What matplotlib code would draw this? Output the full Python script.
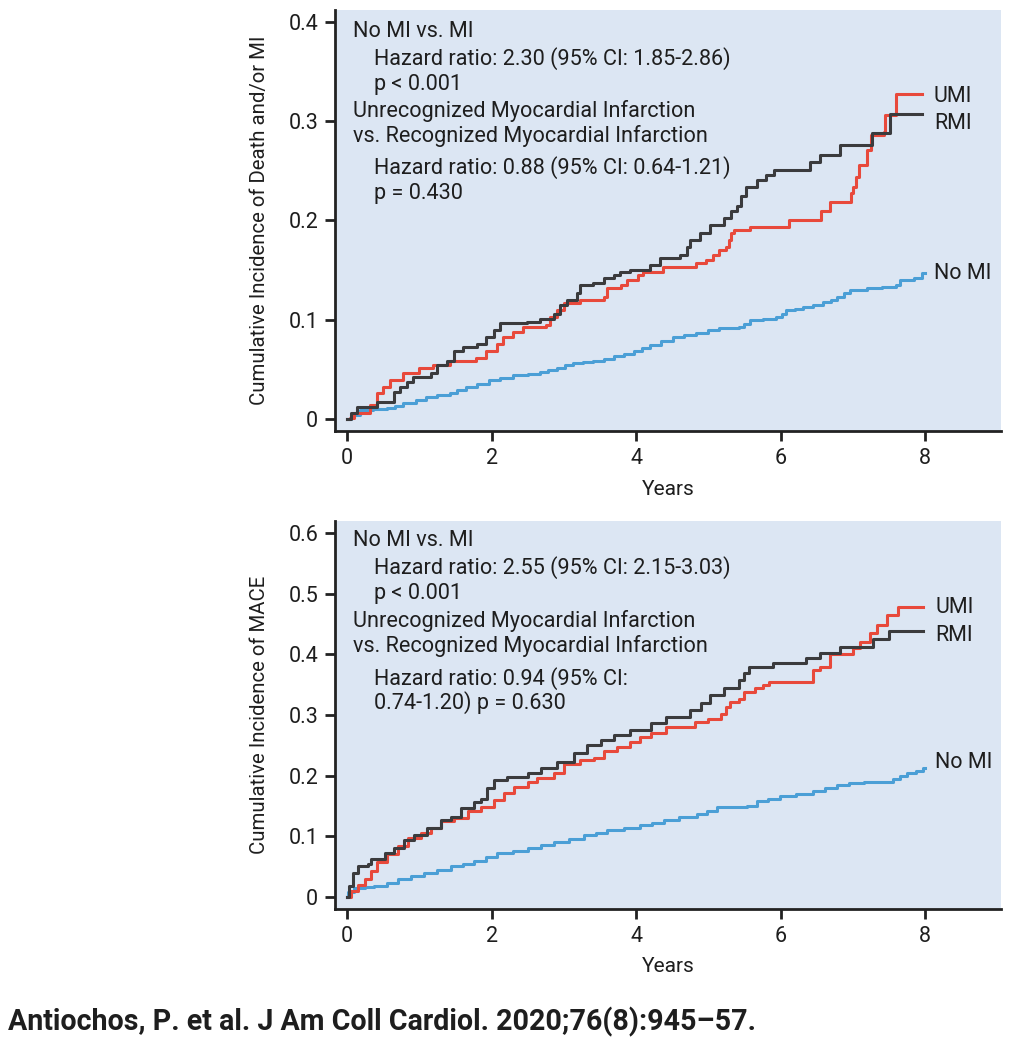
import matplotlib
matplotlib.use("Agg")
import matplotlib.pyplot as plt

plt.rcParams['font.family'] = ['Roboto', 'DejaVu Sans']

# Top panel: death and/or MI (step times in years, cumulative incidence)
top_umi_t = [0, 0.04, 0.1, 0.32, 0.41, 0.5, 0.6, 0.78, 1.0, 1.19, 1.42, 1.79, 1.93, 2.07, 2.16,
             2.3, 2.44, 2.76, 2.81, 2.9, 3.0, 3.23, 3.56, 3.6, 3.79, 3.88, 4.02, 4.1, 4.37, 4.83,
             4.97, 5.06, 5.15, 5.24, 5.29, 5.31, 5.36, 5.57, 6.12, 6.56, 6.68, 6.98, 7.0, 7.05,
             7.09, 7.2, 7.25, 7.43, 7.45, 7.6, 7.95]
top_umi_y = [0, 0.001, 0.006, 0.014, 0.026, 0.032, 0.039, 0.046, 0.051, 0.054, 0.059, 0.062, 0.069,
             0.076, 0.083, 0.088, 0.093, 0.095, 0.103, 0.11, 0.117, 0.12, 0.123, 0.132, 0.135, 0.14,
             0.145, 0.148, 0.153, 0.157, 0.16, 0.165, 0.17, 0.173, 0.18, 0.187, 0.19, 0.193, 0.2,
             0.21, 0.219, 0.228, 0.234, 0.244, 0.256, 0.271, 0.286, 0.289, 0.306, 0.327, 0.327]

top_rmi_t = [0, 0.05, 0.14, 0.41, 0.65, 0.74, 0.83, 0.92, 1.16, 1.25, 1.39, 1.48, 1.61, 1.8, 1.93,
             2.03, 2.12, 2.49, 2.67, 2.86, 2.95, 3.04, 3.18, 3.23, 3.41, 3.55, 3.69, 3.78, 3.92,
             4.19, 4.33, 4.61, 4.7, 4.75, 4.89, 5.03, 5.22, 5.31, 5.4, 5.45, 5.52, 5.68, 5.8, 5.91,
             6.41, 6.55, 6.82, 7.26, 7.52, 7.95]
top_rmi_y = [0, 0.006, 0.012, 0.017, 0.027, 0.032, 0.037, 0.042, 0.046, 0.054, 0.059, 0.069, 0.073,
             0.076, 0.083, 0.09, 0.097, 0.098, 0.101, 0.106, 0.115, 0.12, 0.127, 0.135, 0.137, 0.142,
             0.145, 0.148, 0.15, 0.155, 0.162, 0.165, 0.173, 0.18, 0.187, 0.195, 0.203, 0.21, 0.215,
             0.225, 0.234, 0.241, 0.246, 0.251, 0.259, 0.266, 0.276, 0.288, 0.307, 0.307]

top_nomi_t = [0, 0.05, 0.18, 0.36, 0.55, 0.66, 0.78, 0.95, 1.1, 1.25, 1.42, 1.52, 1.65, 1.8, 1.97,
              2.12, 2.3, 2.5, 2.67, 2.78, 2.9, 3.02, 3.13, 3.27, 3.41, 3.55, 3.69, 3.83, 3.97,
              4.08, 4.19, 4.35, 4.51, 4.67, 4.83, 5.0, 5.15, 5.43, 5.5, 5.57, 5.75, 5.94, 6.02,
              6.08, 6.2, 6.31, 6.45, 6.59, 6.7, 6.78, 6.88, 6.96, 7.19, 7.4, 7.6, 7.65, 7.84,
              7.95, 8.0]
top_nomi_y = [0, 0.004, 0.009, 0.01, 0.011, 0.013, 0.016, 0.019, 0.022, 0.024, 0.026, 0.029, 0.032,
              0.035, 0.039, 0.041, 0.044, 0.045, 0.047, 0.049, 0.051, 0.054, 0.056, 0.057, 0.059,
              0.061, 0.064, 0.066, 0.069, 0.072, 0.075, 0.079, 0.083, 0.085, 0.087, 0.09, 0.092,
              0.093, 0.096, 0.1, 0.101, 0.103, 0.106, 0.11, 0.111, 0.113, 0.115, 0.118, 0.12,
              0.123, 0.127, 0.13, 0.132, 0.133, 0.135, 0.14, 0.142, 0.147, 0.147]

# Bottom panel: MACE
bot_umi_t = [0, 0.05, 0.15, 0.25, 0.33, 0.42, 0.56, 0.7, 0.84, 1.02, 1.16, 1.3, 1.48, 1.67, 1.85,
             2.03, 2.17, 2.31, 2.5, 2.63, 2.86, 3.0, 3.23, 3.42, 3.55, 3.74, 3.92, 4.05, 4.2, 4.42,
             4.82, 5.0, 5.17, 5.24, 5.3, 5.42, 5.5, 5.65, 5.75, 5.84, 6.45, 6.55, 6.69, 7.0, 7.1,
             7.24, 7.33, 7.47, 7.62, 7.97]
bot_umi_y = [0, 0.01, 0.02, 0.029, 0.043, 0.057, 0.07, 0.084, 0.097, 0.106, 0.114, 0.125, 0.13,
             0.141, 0.149, 0.16, 0.171, 0.182, 0.19, 0.196, 0.204, 0.22, 0.226, 0.229, 0.24, 0.248,
             0.256, 0.264, 0.27, 0.281, 0.289, 0.294, 0.302, 0.313, 0.322, 0.327, 0.338, 0.344,
             0.35, 0.355, 0.375, 0.38, 0.4, 0.41, 0.42, 0.435, 0.449, 0.465, 0.478, 0.478]

bot_rmi_t = [0, 0.03, 0.08, 0.15, 0.29, 0.33, 0.52, 0.65, 0.79, 0.93, 1.11, 1.3, 1.44, 1.58, 1.76,
             1.85, 1.94, 2.03, 2.22, 2.5, 2.68, 2.91, 3.14, 3.32, 3.51, 3.69, 3.92, 4.2, 4.42,
             4.75, 4.9, 5.03, 5.22, 5.43, 5.5, 5.56, 5.9, 6.35, 6.55, 6.82, 7.28, 7.5, 7.97]
bot_rmi_y = [0, 0.018, 0.04, 0.051, 0.054, 0.062, 0.073, 0.08, 0.094, 0.102, 0.113, 0.127, 0.132,
             0.146, 0.157, 0.162, 0.179, 0.193, 0.198, 0.204, 0.212, 0.223, 0.237, 0.25, 0.259,
             0.267, 0.275, 0.286, 0.297, 0.308, 0.319, 0.333, 0.344, 0.358, 0.369, 0.38, 0.386,
             0.394, 0.403, 0.412, 0.425, 0.438, 0.438]

bot_nomi_t = [0, 0.02, 0.1, 0.25, 0.38, 0.55, 0.7, 0.88, 1.07, 1.25, 1.44, 1.6, 1.76, 1.92, 2.08,
              2.3, 2.5, 2.68, 2.86, 3.07, 3.28, 3.45, 3.6, 3.83, 4.06, 4.22, 4.38, 4.6, 4.84,
              4.98, 5.12, 5.53, 5.67, 5.83, 5.99, 6.22, 6.45, 6.62, 6.78, 6.95, 7.15, 7.56,
              7.65, 7.75, 7.88, 7.97, 8.0]
bot_nomi_y = [0, 0.008, 0.015, 0.016, 0.018, 0.023, 0.029, 0.034, 0.04, 0.045, 0.051, 0.055, 0.059,
              0.065, 0.072, 0.076, 0.08, 0.085, 0.091, 0.096, 0.102, 0.106, 0.11, 0.114, 0.118,
              0.122, 0.126, 0.131, 0.137, 0.142, 0.148, 0.15, 0.158, 0.162, 0.166, 0.17, 0.174,
              0.18, 0.185, 0.188, 0.19, 0.195, 0.199, 0.204, 0.207, 0.212, 0.212]

xticks = [0, 2, 4, 6, 8]
top_yticks = [0, 0.1, 0.2, 0.3, 0.4]
top_yticklabels = ['0', '0.1', '0.2', '0.3', '0.4']
bot_yticks = [0, 0.1, 0.2, 0.3, 0.4, 0.5, 0.6]
bot_yticklabels = ['0', '0.1', '0.2', '0.3', '0.4', '0.5', '0.6']

top_text = ["No MI vs. MI", "Hazard ratio: 2.30 (95% CI: 1.85-2.86)", "p < 0.001",
            "Unrecognized Myocardial Infarction", "vs. Recognized Myocardial Infarction",
            "Hazard ratio: 0.88 (95% CI: 0.64-1.21)", "p = 0.430"]
bot_text = ["No MI vs. MI", "Hazard ratio: 2.55 (95% CI: 2.15-3.03)", "p < 0.001",
            "Unrecognized Myocardial Infarction", "vs. Recognized Myocardial Infarction",
            "Hazard ratio: 0.94 (95% CI:", "0.74-1.20) p = 0.630"]
indent = [False, True, True, False, False, True, True]

RED = '#e8493b'
DARK = '#3b3b3d'
BLUE = '#4b9fd6'
BG = '#dce6f3'
TXT = '#1e1e1e'

fig = plt.figure(figsize=(10.09, 10.5), dpi=100)
ax1 = fig.add_axes([335 / 1009, 1 - 431 / 1050, 666 / 1009, 421 / 1050])
ax2 = fig.add_axes([335 / 1009, 1 - 909 / 1050, 666 / 1009, 388 / 1050])


def style_axes(ax, ylim, yticks, yticklabels, ylabel, xlab_y):
    ax.set_facecolor(BG)
    ax.set_xlim(-0.166, 9.05)
    ax.set_ylim(*ylim)
    ax.set_xticks(xticks)
    ax.set_xticklabels([str(t) for t in xticks])
    ax.set_yticks(yticks)
    ax.set_yticklabels(yticklabels)
    for s in ['top', 'right']:
        ax.spines[s].set_visible(False)
    for s in ['left', 'bottom']:
        ax.spines[s].set_linewidth(2.0)
        ax.spines[s].set_color('#222222')
    ax.tick_params(direction='out', length=7, width=2.0, color='#222222',
                   labelsize=15.5, labelcolor=TXT)
    ax.tick_params(axis='x', pad=5)
    ax.tick_params(axis='y', pad=5)
    ax.set_xlabel('Years', fontsize=15, color=TXT, va='center')
    ax.xaxis.set_label_coords(0.5, xlab_y)
    ax.set_ylabel(ylabel, fontsize=14.7, color=TXT, va='center')
    ax.yaxis.set_label_coords(-0.114, 0.5)


style_axes(ax1, (-0.012, 0.412), top_yticks, top_yticklabels,
           'Cumulative Incidence of Death and/or MI', -0.138)
style_axes(ax2, (-0.02, 0.62), bot_yticks, bot_yticklabels,
           'Cumulative Incidence of MACE', -0.147)

lw = 2.2
ax1.step(top_nomi_t, top_nomi_y, where='post', color=BLUE, lw=lw)
ax1.step(top_umi_t, top_umi_y, where='post', color=RED, lw=lw)
ax1.step(top_rmi_t, top_rmi_y, where='post', color=DARK, lw=lw)
ax2.step(bot_nomi_t, bot_nomi_y, where='post', color=BLUE, lw=lw)
ax2.step(bot_umi_t, bot_umi_y, where='post', color=RED, lw=lw)
ax2.step(bot_rmi_t, bot_rmi_y, where='post', color=DARK, lw=lw)

# end-of-curve labels
ax1.text(8.12, 0.325, 'UMI', fontsize=15.5, color=TXT, va='center')
ax1.text(8.12, 0.298, 'RMI', fontsize=15.5, color=TXT, va='center')
ax1.text(8.12, 0.1465, 'No MI', fontsize=15.5, color=TXT, va='center')
ax2.text(8.14, 0.477, 'UMI', fontsize=15.5, color=TXT, va='center')
ax2.text(8.14, 0.431, 'RMI', fontsize=15.5, color=TXT, va='center')
ax2.text(8.14, 0.221, 'No MI', fontsize=15.5, color=TXT, va='center')

top_ys = [0.950, 0.884, 0.824, 0.760, 0.701, 0.626, 0.565]
bot_ys = [0.951, 0.879, 0.812, 0.742, 0.678, 0.595, 0.531]
for lines, ys, ax in [(top_text, top_ys, ax1), (bot_text, bot_ys, ax2)]:
    for line, y, ind in zip(lines, ys, indent):
        ax.text(0.0586 if ind else 0.027, y, line, transform=ax.transAxes,
                fontsize=15.6, color=TXT, va='center', ha='left')

fig.text(0.008, 0.027, 'Antiochos, P. et al. J Am Coll Cardiol. 2020;76(8):945\u201357.',
         fontsize=20.6, fontweight='bold', color=TXT, va='center', ha='left')

fig.savefig('out.png', dpi=100, facecolor='white')
